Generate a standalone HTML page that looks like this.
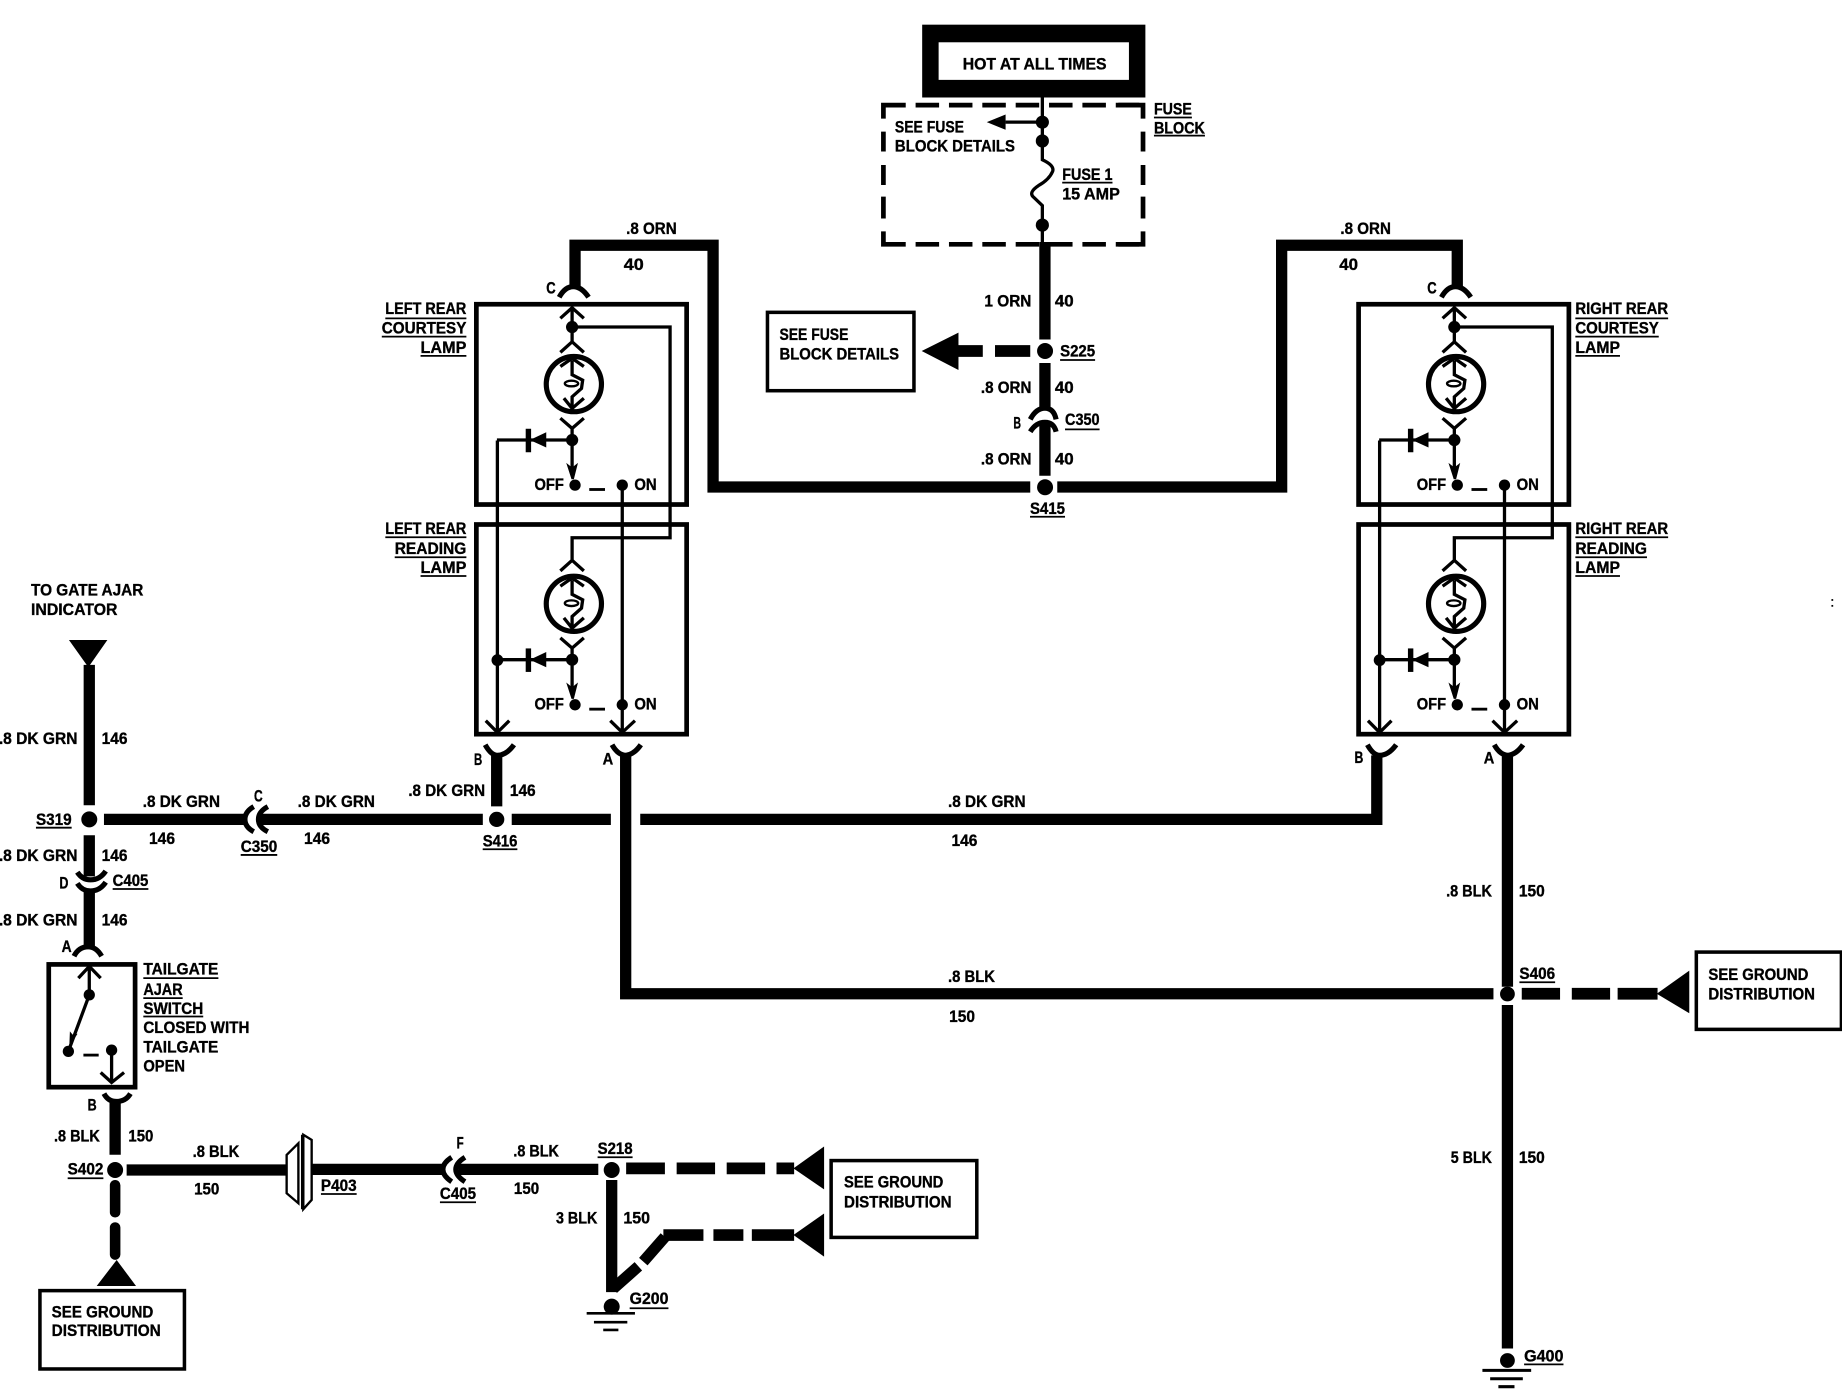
<!DOCTYPE html>
<html><head><meta charset="utf-8"><title>Wiring diagram</title>
<style>
html,body{margin:0;padding:0;background:#fff}
svg{display:block;width:1842px;height:1392px}
text{font-family:"Liberation Sans",sans-serif;font-weight:bold;font-size:14px;fill:#000;stroke:#000;stroke-width:.3}
</style></head><body>
<svg xmlns="http://www.w3.org/2000/svg" viewBox="0 0 1568 1185" preserveAspectRatio="none">
<defs>
<g id="sym">
<circle cx="488.5" cy="327" r="23.5" fill="none" stroke="#000" stroke-width="4.4"/>
<path d="M487 307V319L496 323.6 495 330.7 487 337.8V350.5M477 312L487 305 497 312M480 339L487 347.7 497 339M477 356L487 364.7 497 356M487 364V402M423 374.6H487" fill="none" stroke="#000" stroke-width="2.8"/>
<ellipse cx="486.5" cy="326.5" rx="5.7" ry="2.4" fill="none" stroke="#000" stroke-width="2"/>
<rect x="447.5" y="365" width="4.6" height="20"/>
<polygon points="451,374.6 465,368 465,381"/>
<circle cx="487" cy="374.6" r="5.2"/>
<polygon points="482,394 487,398 492,394 488.5,408 486.5,408"/>
<circle cx="489.5" cy="413" r="4.8"/>
<circle cx="529.7" cy="413" r="4.8"/>
<rect x="501.6" y="415.5" width="13.4" height="2.4"/>
</g>
<g id="lampPair">
<rect x="405.5" y="259" width="179" height="170.5" fill="none" stroke="#000" stroke-width="4"/>
<rect x="405.5" y="446.5" width="179" height="178.5" fill="none" stroke="#000" stroke-width="4"/>
<use href="#sym"/>
<use href="#sym" y="187"/>
<path d="M477 271L487 262 497 271M477 300L487 291 497 300M487 262V291M487 278.4H570.4V457.8H487V477M477 486L487 477 497 486M423.4 375V623.7M413.5 613.5L423.4 623.5 433.5 613.5M529.7 413V623.7M519.5 613.5L529.7 623.5 540.5 613.5" fill="none" stroke="#000" stroke-width="2.8"/>
<circle cx="487" cy="278.4" r="5.2"/>
<circle cx="423.4" cy="562" r="5"/>
<path d="M476 253Q481 244 488 244Q495 244 501 253" fill="none" stroke="#000" stroke-width="4.4"/>
<path d="M413 634Q418 643 423.4 643Q431 643 437.5 634M521 634Q526 643 533 643Q540 642 545.5 634" fill="none" stroke="#000" stroke-width="4.4"/>
</g>
</defs>

<!-- HOT box -->
<rect x="785" y="21" width="190" height="62"/>
<rect x="799" y="36" width="162" height="32" fill="#fff"/>

<!-- Fuse block dashed -->
<path d="M771 89.5H974M771 208H974" fill="none" stroke="#000" stroke-width="4" stroke-dasharray="20 8.4" stroke-dashoffset="-8.4"/>
<path d="M752 101V89.5H771M752 197V208H771M973 101V89.5H952M973 197V208H952M752 112V129M752 140.5V157.5M752 167.4V186M973 112V129M973 140.5V157.5M973 167.4V186" fill="none" stroke="#000" stroke-width="4"/>
<path d="M887.3 83V136Q898 141 896 146Q893 153 884 158Q875 164 880 168L887.3 175V208M856 104H887" fill="none" stroke="#000" stroke-width="2.8"/>
<polygon points="840,104 856,97.5 856,110.5"/>
<circle cx="887.3" cy="104" r="5.6"/>
<circle cx="887.3" cy="120" r="5.6"/>
<circle cx="887.3" cy="191.6" r="5.6"/>

<!-- Thick wires -->
<g fill="none" stroke="#000" stroke-width="9.6">
<path d="M889.5 206V289M889.5 309V349M889.5 361V405"/>
<path d="M489.5 244V208.8H607V414.6H877"/>
<path d="M900 414.6H1091V208.8H1240.5V244"/>
<path d="M76 566V685.5M76 711V746M76 758V806"/>
<path d="M88.5 697.5H208.5M222 697.5H411M435.6 697.5H520M545 697.5H1172V643"/>
<path d="M422.8 643V686.5"/>
<path d="M532.6 643V846H1271.3"/>
<path d="M1283.2 643V840M1283.2 855.5V1148"/>
<path d="M98 938V983"/>
<path d="M107.8 996H244M266 995.5H377M390 995.5H509.3"/>
<path d="M520.7 1004.5V1100"/>
<path d="M522 1097L543.4 1078M547.6 1074L566 1053"/>
</g>
<g fill="none" stroke="#000" stroke-width="10">
<path d="M815 298.8H836.6M847 298.8H877"/>
<path d="M1295.4 846H1328M1338 846H1370.6M1377 846H1411"/>
<path d="M533 994.6H566M576 994.6H608.7M618.6 994.6H651.3M661 994.6H676"/>
<path d="M564.7 1051.4H598.8M607.3 1051.4H632.8M640 1051.4H676"/>
</g>
<path d="M98 1009V1032M98 1045V1068" fill="none" stroke="#000" stroke-width="9" stroke-linecap="round"/>

<!-- Arrowheads -->
<polygon points="784.6,298.8 815.9,283.2 815.9,315"/>
<polygon points="1410.3,846 1438,826.3 1438,862.6"/>
<polygon points="675.4,994.6 701.5,976 701.5,1012.5"/>
<polygon points="675.4,1051.4 701.5,1033 701.5,1069.8"/>
<polygon points="99.3,1072.6 82.3,1094.8 115.8,1094.8"/>
<polygon points="58.7,544.8 91.4,544.8 75.2,568"/>

<!-- Splice dots -->
<circle cx="889.6" cy="298.8" r="6.8"/>
<circle cx="889.6" cy="414.8" r="6.8"/>
<circle cx="76" cy="697.5" r="6.8"/>
<circle cx="422.8" cy="697.5" r="6.5"/>
<circle cx="1283.2" cy="846.2" r="6.3"/>
<circle cx="98" cy="996" r="6.8"/>
<circle cx="520.7" cy="996" r="6.8"/>
<circle cx="520.7" cy="1112.3" r="6.8"/>
<circle cx="1283.2" cy="1158.2" r="6.3"/>

<!-- Lamps -->
<use href="#lampPair"/>
<use href="#lampPair" x="751"/>

<!-- Connector arcs -->
<g fill="none" stroke="#000" stroke-width="4.4">
<path d="M877 357Q882 347.5 889.5 347.5Q897 347.5 899 357M877 367.5Q882 359.5 889.5 359.5Q897 359.5 899 367.5"/>
<path d="M216 686.7Q208.5 691 208.5 697.5Q208.5 704 216 708M228 686.7Q220 691 220 697.5Q220 704 228 708"/>
<path d="M65.8 742.5Q70 749 77 749Q85 749 90 741.5M65.8 752Q70 758.5 77 758.5Q85 758.5 90 751"/>
<path d="M63 814Q67 806 75 806Q82 806 86.5 814"/>
<path d="M88.5 931Q92 937.7 99 937.7Q107 937.7 111 931"/>
<path d="M384.5 985.2Q377 990 377 995.5Q377 1001 384.5 1006M395.8 985.2Q388 990 388 995.5Q388 1001 395.8 1006"/>
</g>

<!-- P403 -->
<polygon points="244,983.2 254,973.3 254,1024.3 244,1015.8" fill="#fff" stroke="#000" stroke-width="2"/>
<polygon points="258.2,966 265.3,970.4 265.3,1021.5 258.2,1029.4" fill="#fff" stroke="#000" stroke-width="2"/>
<path d="M257.5 966V1029.4" stroke="#000" stroke-width="2.6"/>

<!-- Boxes -->
<g fill="none" stroke="#000" stroke-width="3">
<rect x="653.3" y="265.9" width="124.7" height="66.7"/>
<rect x="1444" y="810.5" width="123.5" height="65.8"/>
<rect x="707.5" y="988" width="124" height="65.4"/>
<rect x="34" y="1098.7" width="123" height="66.7"/>
</g>

<!-- Switch -->
<rect x="41.5" y="821" width="73.5" height="104.5" fill="none" stroke="#000" stroke-width="4"/>
<g fill="none" stroke="#000" stroke-width="2.8">
<path d="M76 823V847L58.2 895M66.7 832.7L76 822.7 85.7 832.7M95 894V921.5M85.7 913L95 921.5 105.6 913"/>
</g>
<circle cx="76" cy="846.9" r="4.8"/><circle cx="58.2" cy="895" r="4.8"/><circle cx="95" cy="894" r="4.8"/>
<polygon points="59,891 59.5,878 62,881 66,880"/>
<rect x="71" y="897" width="13" height="2.4"/>

<!-- Grounds -->
<g stroke="#000" fill="none">
<path d="M499.4 1118H540.5M505.6 1125.6H534M513.5 1132.2H526.4" stroke-width="2.2"/>
<path d="M1261.9 1166.6H1303.4M1268.5 1173.7H1296.3M1275.5 1180.5H1289.2" stroke-width="2.6"/>
</g>
<rect x="1559" y="510" width="1.5" height="1.5"/><rect x="1559" y="515" width="1.5" height="1.5"/>

<!-- Underlines -->
<path d="M982.3 100H1014.6M982.3 115.5H1025.7M904.2 155.5H947M328 271H397M325 286.6H397M358 303H397M328 457.4H397M336 474.4H397M358 490.3H397M1341 271H1420M1341 286.6H1412M1341 303H1379M1341 457.4H1420M1341 474.4H1402M1341 490.3H1379M902.4 306.5H932.2M906.6 365.5H936M876.8 439.9H906.6M30.6 704.6H61M204.9 727.8H236M410.9 723H440.4M95.9 756.8H126.3M122 832.7H185.9M122 849.7H155.5M122 865.3H173M57.6 1003H88M273.2 1016.4H303.6M374.5 1023.5H405.2M508.7 985.2H538.5M536 1113.7H569M1293.4 836.2H1323.8M1297.4 1161.5H1330.9" fill="none" stroke="#000" stroke-width="1.5"/>

<!-- Text -->
<text x="819.5" y="59" textLength="122.5" lengthAdjust="spacingAndGlyphs">HOT AT ALL TIMES</text>
<text x="761.8" y="113" textLength="58.8" lengthAdjust="spacingAndGlyphs">SEE FUSE</text>
<text x="761.8" y="129" textLength="102.2" lengthAdjust="spacingAndGlyphs">BLOCK DETAILS</text>
<text x="982.3" y="97.5" textLength="32.3" lengthAdjust="spacingAndGlyphs">FUSE</text>
<text x="982.3" y="113.5" textLength="43.4" lengthAdjust="spacingAndGlyphs">BLOCK</text>
<text x="904.2" y="153.2" textLength="42.8" lengthAdjust="spacingAndGlyphs">FUSE 1</text>
<text x="904.2" y="169.7" textLength="49.1" lengthAdjust="spacingAndGlyphs">15 AMP</text>
<text x="533" y="199" textLength="43" lengthAdjust="spacingAndGlyphs">.8 ORN</text>
<text x="531" y="230" textLength="17" lengthAdjust="spacingAndGlyphs">40</text>
<text x="1141" y="199" textLength="43" lengthAdjust="spacingAndGlyphs">.8 ORN</text>
<text x="1140" y="230" textLength="16" lengthAdjust="spacingAndGlyphs">40</text>
<text x="465" y="250" textLength="8" lengthAdjust="spacingAndGlyphs">C</text>
<text x="1215" y="250" textLength="8" lengthAdjust="spacingAndGlyphs">C</text>
<text x="328" y="267.5" textLength="69" lengthAdjust="spacingAndGlyphs">LEFT REAR</text>
<text x="325" y="284" textLength="72" lengthAdjust="spacingAndGlyphs">COURTESY</text>
<text x="358" y="300.5" textLength="39" lengthAdjust="spacingAndGlyphs">LAMP</text>
<text x="328" y="454.5" textLength="69" lengthAdjust="spacingAndGlyphs">LEFT REAR</text>
<text x="336" y="471.6" textLength="61" lengthAdjust="spacingAndGlyphs">READING</text>
<text x="358" y="488" textLength="39" lengthAdjust="spacingAndGlyphs">LAMP</text>
<text x="1341" y="267.5" textLength="79" lengthAdjust="spacingAndGlyphs">RIGHT REAR</text>
<text x="1341" y="284" textLength="71" lengthAdjust="spacingAndGlyphs">COURTESY</text>
<text x="1341" y="300.5" textLength="38" lengthAdjust="spacingAndGlyphs">LAMP</text>
<text x="1341" y="454.5" textLength="79" lengthAdjust="spacingAndGlyphs">RIGHT REAR</text>
<text x="1341" y="471.6" textLength="61" lengthAdjust="spacingAndGlyphs">READING</text>
<text x="1341" y="488" textLength="38" lengthAdjust="spacingAndGlyphs">LAMP</text>
<text x="455" y="417.3" textLength="25" lengthAdjust="spacingAndGlyphs">OFF</text>
<text x="540" y="417.3" textLength="19" lengthAdjust="spacingAndGlyphs">ON</text>
<text x="455" y="604" textLength="25" lengthAdjust="spacingAndGlyphs">OFF</text>
<text x="540" y="604" textLength="19" lengthAdjust="spacingAndGlyphs">ON</text>
<text x="1206" y="417.3" textLength="25" lengthAdjust="spacingAndGlyphs">OFF</text>
<text x="1291" y="417.3" textLength="19" lengthAdjust="spacingAndGlyphs">ON</text>
<text x="1206" y="604" textLength="25" lengthAdjust="spacingAndGlyphs">OFF</text>
<text x="1291" y="604" textLength="19" lengthAdjust="spacingAndGlyphs">ON</text>
<text x="663.5" y="289.5" textLength="58.7" lengthAdjust="spacingAndGlyphs">SEE FUSE</text>
<text x="663.5" y="305.9" textLength="101.8" lengthAdjust="spacingAndGlyphs">BLOCK DETAILS</text>
<text x="838" y="261" textLength="40" lengthAdjust="spacingAndGlyphs">1 ORN</text>
<text x="898" y="261" textLength="16" lengthAdjust="spacingAndGlyphs">40</text>
<text x="835" y="334.5" textLength="43" lengthAdjust="spacingAndGlyphs">.8 ORN</text>
<text x="898" y="334.5" textLength="16" lengthAdjust="spacingAndGlyphs">40</text>
<text x="835" y="395.5" textLength="43" lengthAdjust="spacingAndGlyphs">.8 ORN</text>
<text x="898" y="395.5" textLength="16" lengthAdjust="spacingAndGlyphs">40</text>
<text x="862.6" y="364.6" textLength="6.5" lengthAdjust="spacingAndGlyphs">B</text>
<text x="906.6" y="361.8" textLength="29.4" lengthAdjust="spacingAndGlyphs">C350</text>
<text x="902.4" y="303.6" textLength="29.8" lengthAdjust="spacingAndGlyphs">S225</text>
<text x="876.8" y="437.6" textLength="29.8" lengthAdjust="spacingAndGlyphs">S415</text>
<text x="26.4" y="507" textLength="95.6" lengthAdjust="spacingAndGlyphs">TO GATE AJAR</text>
<text x="26.4" y="523.5" textLength="73.6" lengthAdjust="spacingAndGlyphs">INDICATOR</text>
<text x="-1" y="633.3" textLength="67" lengthAdjust="spacingAndGlyphs">.8 DK GRN</text>
<text x="86.5" y="633.3" textLength="22" lengthAdjust="spacingAndGlyphs">146</text>
<text x="30.6" y="702.3" textLength="30.4" lengthAdjust="spacingAndGlyphs">S319</text>
<text x="121.5" y="687.2" textLength="65.8" lengthAdjust="spacingAndGlyphs">.8 DK GRN</text>
<text x="126.8" y="718.5" textLength="22.2" lengthAdjust="spacingAndGlyphs">146</text>
<text x="216.2" y="682.4" textLength="7.4" lengthAdjust="spacingAndGlyphs">C</text>
<text x="204.9" y="725.5" textLength="31.1" lengthAdjust="spacingAndGlyphs">C350</text>
<text x="253.4" y="687.2" textLength="65.8" lengthAdjust="spacingAndGlyphs">.8 DK GRN</text>
<text x="258.8" y="718.5" textLength="22.2" lengthAdjust="spacingAndGlyphs">146</text>
<text x="403.5" y="651.2" textLength="7" lengthAdjust="spacingAndGlyphs">B</text>
<text x="347.6" y="677.6" textLength="65.3" lengthAdjust="spacingAndGlyphs">.8 DK GRN</text>
<text x="434" y="677.6" textLength="22" lengthAdjust="spacingAndGlyphs">146</text>
<text x="410.9" y="720.7" textLength="29.5" lengthAdjust="spacingAndGlyphs">S416</text>
<text x="513" y="651" textLength="9" lengthAdjust="spacingAndGlyphs">A</text>
<text x="-1" y="733" textLength="67" lengthAdjust="spacingAndGlyphs">.8 DK GRN</text>
<text x="86.5" y="733" textLength="22" lengthAdjust="spacingAndGlyphs">146</text>
<text x="50.5" y="756.2" textLength="7.7" lengthAdjust="spacingAndGlyphs">D</text>
<text x="95.9" y="754.2" textLength="30.4" lengthAdjust="spacingAndGlyphs">C405</text>
<text x="-1" y="787.7" textLength="67" lengthAdjust="spacingAndGlyphs">.8 DK GRN</text>
<text x="86.5" y="787.7" textLength="22" lengthAdjust="spacingAndGlyphs">146</text>
<text x="52.5" y="810.5" textLength="8.5" lengthAdjust="spacingAndGlyphs">A</text>
<text x="122" y="829.8" textLength="63.9" lengthAdjust="spacingAndGlyphs">TAILGATE</text>
<text x="122" y="846.9" textLength="33.5" lengthAdjust="spacingAndGlyphs">AJAR</text>
<text x="122" y="863.3" textLength="51" lengthAdjust="spacingAndGlyphs">SWITCH</text>
<text x="122" y="879.5" textLength="90.3" lengthAdjust="spacingAndGlyphs">CLOSED WITH</text>
<text x="122" y="896" textLength="63.9" lengthAdjust="spacingAndGlyphs">TAILGATE</text>
<text x="122" y="912" textLength="35.5" lengthAdjust="spacingAndGlyphs">OPEN</text>
<text x="74.6" y="945.3" textLength="7.7" lengthAdjust="spacingAndGlyphs">B</text>
<text x="46" y="971.7" textLength="39" lengthAdjust="spacingAndGlyphs">.8 BLK</text>
<text x="109.3" y="971.7" textLength="21.2" lengthAdjust="spacingAndGlyphs">150</text>
<text x="164" y="985" textLength="39.7" lengthAdjust="spacingAndGlyphs">.8 BLK</text>
<text x="165.2" y="1017" textLength="21.5" lengthAdjust="spacingAndGlyphs">150</text>
<text x="57.6" y="1000" textLength="30.4" lengthAdjust="spacingAndGlyphs">S402</text>
<text x="273.2" y="1013.8" textLength="30.4" lengthAdjust="spacingAndGlyphs">P403</text>
<text x="388.7" y="977.5" textLength="6" lengthAdjust="spacingAndGlyphs">F</text>
<text x="374.5" y="1020.7" textLength="30.7" lengthAdjust="spacingAndGlyphs">C405</text>
<text x="437" y="984.6" textLength="38.8" lengthAdjust="spacingAndGlyphs">.8 BLK</text>
<text x="437.5" y="1016.4" textLength="21.5" lengthAdjust="spacingAndGlyphs">150</text>
<text x="508.7" y="982.6" textLength="29.8" lengthAdjust="spacingAndGlyphs">S218</text>
<text x="473.3" y="1041.4" textLength="35.2" lengthAdjust="spacingAndGlyphs">3 BLK</text>
<text x="530.6" y="1041.4" textLength="22.7" lengthAdjust="spacingAndGlyphs">150</text>
<text x="536" y="1110.3" textLength="33" lengthAdjust="spacingAndGlyphs">G200</text>
<text x="718.5" y="1010.8" textLength="84.5" lengthAdjust="spacingAndGlyphs">SEE GROUND</text>
<text x="718.5" y="1027.8" textLength="91.5" lengthAdjust="spacingAndGlyphs">DISTRIBUTION</text>
<text x="44" y="1121.4" textLength="86.5" lengthAdjust="spacingAndGlyphs">SEE GROUND</text>
<text x="44" y="1137.3" textLength="92.8" lengthAdjust="spacingAndGlyphs">DISTRIBUTION</text>
<text x="1454.3" y="834.3" textLength="85.1" lengthAdjust="spacingAndGlyphs">SEE GROUND</text>
<text x="1454.3" y="850.7" textLength="90.7" lengthAdjust="spacingAndGlyphs">DISTRIBUTION</text>
<text x="807" y="687" textLength="66" lengthAdjust="spacingAndGlyphs">.8 DK GRN</text>
<text x="810" y="720" textLength="22" lengthAdjust="spacingAndGlyphs">146</text>
<text x="807" y="836" textLength="40" lengthAdjust="spacingAndGlyphs">.8 BLK</text>
<text x="808" y="870" textLength="22" lengthAdjust="spacingAndGlyphs">150</text>
<text x="1231" y="763" textLength="39" lengthAdjust="spacingAndGlyphs">.8 BLK</text>
<text x="1293" y="763" textLength="22" lengthAdjust="spacingAndGlyphs">150</text>
<text x="1235" y="990" textLength="35" lengthAdjust="spacingAndGlyphs">5 BLK</text>
<text x="1293" y="990" textLength="22" lengthAdjust="spacingAndGlyphs">150</text>
<text x="1293.4" y="833.4" textLength="30.4" lengthAdjust="spacingAndGlyphs">S406</text>
<text x="1297.4" y="1159.2" textLength="33.5" lengthAdjust="spacingAndGlyphs">G400</text>
<text x="1263" y="650" textLength="9" lengthAdjust="spacingAndGlyphs">A</text>
<text x="1153" y="649.5" textLength="7.5" lengthAdjust="spacingAndGlyphs">B</text>
</svg>
</body></html>
